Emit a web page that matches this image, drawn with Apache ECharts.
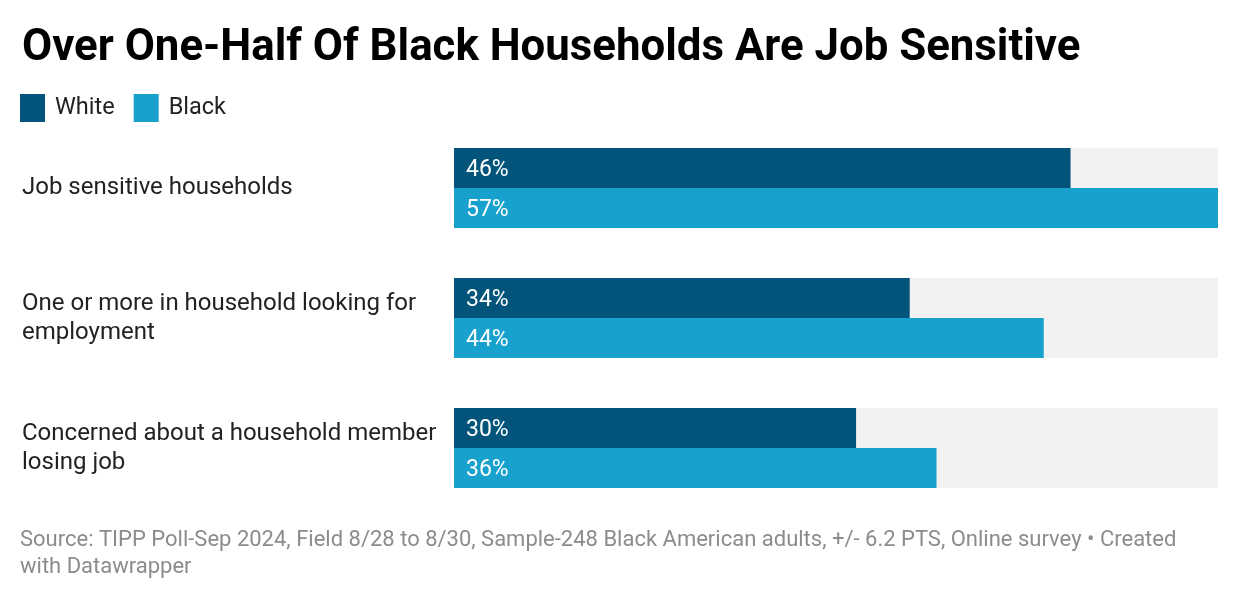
<!DOCTYPE html>
<html>
<head>
<meta charset="utf-8">
<script src="https://cdn.jsdelivr.net/npm/echarts@6/dist/echarts.min.js"></script>
<style>
html,body{margin:0;padding:0;background:#fff;}
#c{width:1240px;height:602px;}
</style>
</head>
<body>
<div id="c"></div>
<script>
const categories = [
  "Job sensitive households",
  "One or more in household looking for\nemployment",
  "Concerned about a household member\nlosing job"
];
const whiteValues = [46, 34, 30];
const blackValues = [57, 44, 36];
const seriesNames = ["White", "Black"];
const titleText = "Over One-Half Of Black Households Are Job Sensitive";
const sourceText = "Source: TIPP Poll-Sep 2024, Field 8/28 to 8/30, Sample-248 Black American adults, +/- 6.2 PTS, Online survey • Created\nwith Datawrapper";

const FONT = "Roboto";
const chart = echarts.init(document.getElementById('c'), null, {renderer: 'canvas'});
const labelOpt = {
  show: true,
  position: 'insideLeft',
  distance: 12,
  offset: [0, 2],
  color: '#fff',
  fontFamily: FONT,
  fontSize: 23,
  formatter: p => p.value + '%'
};
chart.setOption({
  animation: false,
  backgroundColor: '#fff',
  textStyle: {fontFamily: FONT},
  title: {
    text: titleText,
    left: 17,
    top: 22,
    textStyle: {fontFamily: FONT, fontSize: 43.8, fontWeight: 'bold', color: '#000'}
  },
  legend: {
    left: 20,
    top: 94,
    padding: 0,
    itemWidth: 25,
    itemHeight: 28,
    itemGap: 19,
    icon: 'rect',
    textStyle: {fontFamily: FONT, fontSize: 23.5, color: '#222', padding: [0, 0, 0, 5]},
    data: seriesNames
  },
  grid: {left: 454, right: 22, top: 123, height: 390, containLabel: false},
  xAxis: {
    type: 'value', min: 0, max: 57, show: false
  },
  yAxis: {
    type: 'category',
    inverse: true,
    data: categories,
    axisLine: {show: false},
    axisTick: {show: false},
    axisLabel: {
      align: 'left',
      margin: 432,
      fontFamily: FONT,
      fontSize: 24,
      color: '#222',
      lineHeight: 29,
      padding: [4, 0, 0, 0]
    }
  },
  series: [
    {
      name: seriesNames[0], type: 'bar', data: whiteValues,
      barWidth: 40, barGap: '0%',
      itemStyle: {color: '#03547b'},
      showBackground: true, backgroundStyle: {color: '#f2f2f2'},
      label: labelOpt
    },
    {
      name: seriesNames[1], type: 'bar', data: blackValues,
      barWidth: 40, barGap: '0%',
      itemStyle: {color: '#18a1cd'},
      showBackground: true, backgroundStyle: {color: '#f2f2f2'},
      label: labelOpt
    }
  ],
  graphic: [{
    type: 'text', left: 20, top: 527,
    style: {text: sourceText, fontFamily: FONT, fontSize: 22, fill: '#8c8c8c', lineHeight: 27}
  }]
});
</script>
</body>
</html>
